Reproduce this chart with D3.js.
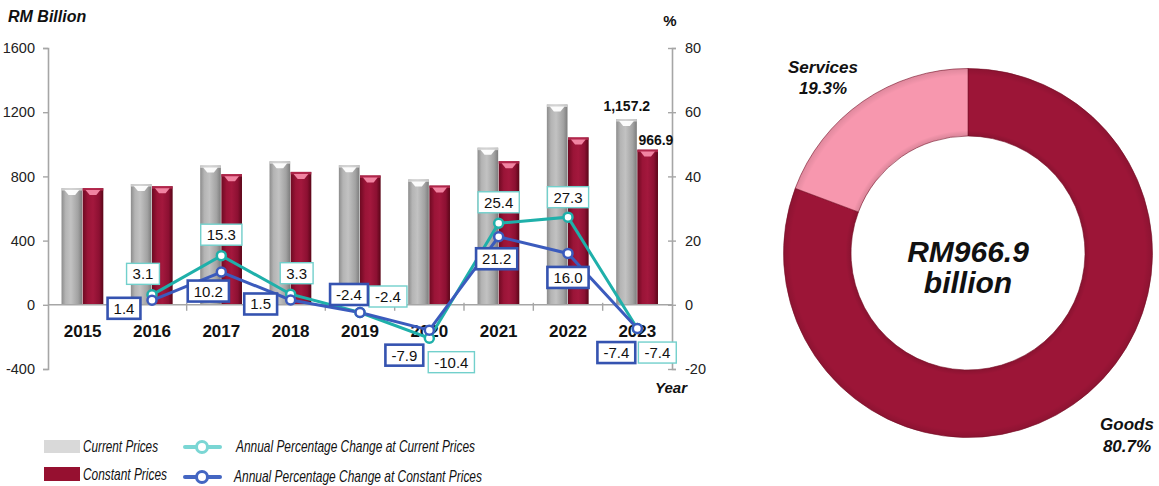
<!DOCTYPE html>
<html>
<head>
<meta charset="utf-8">
<script src="https://cdn.jsdelivr.net/npm/d3@7"></script>
<style>
  html, body { margin: 0; padding: 0; background: #fff; }
  svg { display: block; font-family: "Liberation Sans", Arial, sans-serif; }
</style>
</head>
<body>
<svg id="chart" width="1159" height="486"></svg>
<script>
// ---------- data ----------
const years = ["2015", "2016", "2017", "2018", "2019", "2020", "2021", "2022", "2023"];
const currentPrices = [727, 752, 868, 894, 870, 781, 979, 1248, 1157.2];
const constantPrices = [727, 739, 814, 828, 806, 743, 895, 1043, 966.9];
const pctYears = ["2016", "2017", "2018", "2019", "2020", "2021", "2022", "2023"];
const pctCurrent = [3.1, 15.3, 3.3, -2.4, -10.4, 25.4, 27.3, -7.4];
const pctConstant = [1.4, 10.2, 1.5, -2.4, -7.9, 21.2, 16.0, -7.4];
const leftTicks = [-400, 0, 400, 800, 1200, 1600];
const rightTicks = [-20, 0, 20, 40, 60, 80];
const donutLabels = ["Goods", "Services"];
const donutShares = [80.7, 19.3];
const donutTotal = "RM966.9";

// ---------- layout (label offsets, px) ----------
const curLabelOff = [[-9, -21], [0, -21], [6, -21], [28, -16], [22, 24], [0, -21], [0, -20], [20, 24]];
const conLabelOff = [[-28, 8], [-13, 19], [-30, 4], [-11, -18], [-25, 25], [-2, 22], [0, 24], [-21, 24]];

const hy = s => s.replace(/\u2212/g, "-");
const f1 = v => hy(d3.format(".1f")(v));
const fd = v => hy(d3.format("d")(v));

const svg = d3.select("#chart");
const defs = svg.append("defs");

function hGrad(id, stops) {
  const g = defs.append("linearGradient").attr("id", id).attr("x1", 0).attr("x2", 1).attr("y1", 0).attr("y2", 0);
  stops.forEach(s => g.append("stop").attr("offset", s[0]).attr("stop-color", s[1]));
}
hGrad("gGray", [["0%", "#8c8c8c"], ["20%", "#b4b4b4"], ["45%", "#c2c2c2"], ["80%", "#a2a2a2"], ["100%", "#7c7c7c"]]);
hGrad("gRed", [["0%", "#6e0a22"], ["25%", "#9a1437"], ["50%", "#a3183d"], ["80%", "#8c1032"], ["100%", "#5a0618"]]);

// ---------- scales ----------
const x0 = d3.scaleBand().domain(years).range([48, 672]).paddingInner(0.39).paddingOuter(0.195);
const x1 = d3.scaleBand().domain(["cur", "con"]).range([0, x0.bandwidth()]);
const yL = d3.scaleLinear().domain([-400, 1600]).range([369, 48]);
const yR = d3.scaleLinear().domain([-20, 80]).range([369, 48]);
const cx = y => x0(y) + x0.bandwidth() / 2;

const axisColor = "#a6a6a6";

// ---------- axes ----------
const gLeft = svg.append("g").attr("transform", "translate(48,0)")
  .call(d3.axisLeft(yL).tickValues(leftTicks).tickSize(5).tickPadding(8).tickFormat(fd));
const gRight = svg.append("g").attr("transform", "translate(672,0)")
  .call(d3.axisRight(yR).tickValues(rightTicks).tickSize(4).tickPadding(9).tickFormat(fd));
[gLeft, gRight].forEach(g => {
  g.select(".domain").attr("stroke", axisColor).attr("stroke-width", 1.6);
  g.selectAll(".tick line").attr("stroke", axisColor).attr("stroke-width", 1.4);
  g.selectAll(".tick text").attr("font-size", 14.5).attr("fill", "#222").attr("font-family", "Liberation Sans, Arial, sans-serif");
});
gRight.selectAll(".tick line").attr("x1", -4);

// bars
const barG = svg.append("g");
years.forEach((yr, i) => {
  const series = [["cur", currentPrices[i], "url(#gGray)", "#d8d8d8", "#ffffff"],
                  ["con", constantPrices[i], "url(#gRed)", "#b82a50", "#f58aa8"]];
  series.forEach(([key, v, fill, capCol, hiCol]) => {
    const bx = x0(yr) + x1(key), bw = x1.bandwidth() - 0.5, top = yL(v), h = yL(0) - top;
    barG.append("rect").attr("x", bx).attr("y", top).attr("width", bw).attr("height", h).attr("fill", fill);
    barG.append("rect").attr("x", bx).attr("y", top).attr("width", bw).attr("height", 2.5).attr("fill", capCol).attr("opacity", 0.8);
    barG.append("path")
      .attr("d", `M${bx + 3},${top + 2} L${bx + bw - 3},${top + 2} L${bx + bw - 7},${top + 7} L${bx + 7},${top + 7} Z`)
      .attr("fill", hiCol).attr("opacity", 0.95);
  });
});

// x axis line and ticks
svg.append("line").attr("x1", 48).attr("x2", 672).attr("y1", yL(0)).attr("y2", yL(0))
  .attr("stroke", axisColor).attr("stroke-width", 1.6);
years.slice(1).forEach(yr => {
  const bx = x0(yr) - x0.step() * x0.paddingInner() / 2;
  svg.append("line").attr("x1", bx).attr("x2", bx).attr("y1", yL(0) - 2).attr("y2", yL(0) + 6)
    .attr("stroke", axisColor).attr("stroke-width", 1.4);
});

// year labels
svg.append("g").selectAll("text").data(years).join("text")
  .attr("x", d => cx(d)).attr("y", 337).attr("text-anchor", "middle")
  .attr("font-size", 17).attr("font-weight", "bold").attr("fill", "#111").text(d => d);

// value labels for 2023
const last = years.length - 1;
svg.append("text").attr("x", x0(years[last]) + x1("cur") + x1.bandwidth() / 2).attr("y", yL(currentPrices[last]) - 8)
  .attr("text-anchor", "middle").attr("font-size", 14).attr("font-weight", "bold").attr("fill", "#111")
  .text(d3.format(",.1f")(currentPrices[last]));
svg.append("text").attr("x", x0(years[last]) + x1("con") + x1.bandwidth() / 2 + 8).attr("y", yL(constantPrices[last]) - 5)
  .attr("text-anchor", "middle").attr("font-size", 14).attr("font-weight", "bold").attr("fill", "#111")
  .text(f1(constantPrices[last]));

// axis titles
svg.append("text").attr("x", 8).attr("y", 22).attr("font-size", 16).attr("font-weight", "bold")
  .attr("font-style", "italic").attr("fill", "#111").text("RM Billion");
svg.append("text").attr("x", 670).attr("y", 26).attr("text-anchor", "middle").attr("font-size", 15)
  .attr("font-weight", "bold").attr("fill", "#111").text("%");
svg.append("text").attr("x", 655).attr("y", 393).attr("font-size", 15).attr("font-weight", "bold")
  .attr("font-style", "italic").attr("fill", "#111").text("Year");

// ---------- lines ----------
const tealLine = "#1fb0aa", blueLine = "#3b5bbd";
const line = d3.line().x(d => cx(d[0])).y(d => yR(d[1]));
const curPts = pctYears.map((y, i) => [y, pctCurrent[i]]);
const conPts = pctYears.map((y, i) => [y, pctConstant[i]]);
svg.append("path").datum(curPts).attr("d", line).attr("fill", "none").attr("stroke", tealLine).attr("stroke-width", 3);
svg.append("path").datum(conPts).attr("d", line).attr("fill", "none").attr("stroke", blueLine).attr("stroke-width", 3);
svg.append("g").selectAll("circle").data(curPts).join("circle")
  .attr("cx", d => cx(d[0])).attr("cy", d => yR(d[1])).attr("r", 4.5)
  .attr("fill", "#fff").attr("stroke", tealLine).attr("stroke-width", 2.5);
svg.append("g").selectAll("circle").data(conPts).join("circle")
  .attr("cx", d => cx(d[0])).attr("cy", d => yR(d[1])).attr("r", 4.5)
  .attr("fill", "#fff").attr("stroke", blueLine).attr("stroke-width", 2.5);

// ---------- point labels ----------
function boxLabel(px, py, txt, border, bw) {
  const g = svg.append("g");
  const t = g.append("text").attr("x", px).attr("y", py + 5.5).attr("text-anchor", "middle")
    .attr("font-size", 15).attr("fill", "#111").text(txt);
  const w = t.node().getComputedTextLength() + 12;
  g.insert("rect", "text").attr("x", px - w / 2).attr("y", py - 10.5).attr("width", w).attr("height", 21)
    .attr("fill", "#fff").attr("stroke", border).attr("stroke-width", bw);
}
curPts.forEach((d, i) => boxLabel(cx(d[0]) + curLabelOff[i][0], yR(d[1]) + curLabelOff[i][1], f1(d[1]), "#72d0cc", 1.4));
conPts.forEach((d, i) => boxLabel(cx(d[0]) + conLabelOff[i][0], yR(d[1]) + conLabelOff[i][1], f1(d[1]), "#3553b0", 2.6));

// ---------- legend ----------
const lg = svg.append("g").attr("font-style", "italic").attr("fill", "#111");
lg.append("rect").attr("x", 44).attr("y", 440).attr("width", 36).attr("height", 13).attr("fill", "#d9d9d9");
lg.append("text").attr("x", 83).attr("y", 452).attr("font-size", 16.5).attr("textLength", 75).attr("lengthAdjust", "spacingAndGlyphs").text("Current Prices");
lg.append("rect").attr("x", 44).attr("y", 467).attr("width", 36).attr("height", 14).attr("fill", "#961030");
lg.append("text").attr("x", 83).attr("y", 480).attr("font-size", 16.5).attr("textLength", 84).attr("lengthAdjust", "spacingAndGlyphs").text("Constant Prices");
[[447, "#7ad6d4", "Annual Percentage Change at Current Prices", 239, 236],
 [477, "#4466c2", "Annual Percentage Change at Constant Prices", 248, 234]].forEach(([y, c, t, tl, tx]) => {
  lg.append("line").attr("x1", 185).attr("x2", 220).attr("y1", y).attr("y2", y).attr("stroke", c).attr("stroke-width", 4).attr("stroke-linecap", "round");
  lg.append("circle").attr("cx", 202).attr("cy", y).attr("r", 5.5).attr("fill", "#fff").attr("stroke", c).attr("stroke-width", 3);
  lg.append("text").attr("x", tx).attr("y", y + 5).attr("font-size", 16.5).attr("textLength", tl).attr("lengthAdjust", "spacingAndGlyphs").text(t);
});

// ---------- donut ----------
const dcx = 968, dcy = 253, rOut = 184.5, rIn = 117;
const donutColors = ["#9c1537", "#f797ae"];
const pie = d3.pie().sort(null).value(d => d)(donutShares);
const arc = d3.arc().innerRadius(rIn).outerRadius(rOut);
const dg = svg.append("g").attr("transform", `translate(${dcx},${dcy})`);
const rg = defs.append("radialGradient").attr("id", "dShade").attr("gradientUnits", "userSpaceOnUse")
  .attr("cx", 0).attr("cy", 0).attr("r", rOut);
rg.append("stop").attr("offset", rIn / rOut).attr("stop-color", "#000").attr("stop-opacity", 0.12);
rg.append("stop").attr("offset", rIn / rOut + 0.03).attr("stop-color", "#000").attr("stop-opacity", 0);
rg.append("stop").attr("offset", 0.96).attr("stop-color", "#000").attr("stop-opacity", 0);
rg.append("stop").attr("offset", 1).attr("stop-color", "#000").attr("stop-opacity", 0.1);
dg.selectAll("path.slice").data(pie).join("path").attr("class", "slice")
  .attr("d", arc).attr("fill", (d, i) => donutColors[i]).attr("stroke", "#7a1028").attr("stroke-width", 0.6);
dg.selectAll("path.shade").data(pie).join("path").attr("class", "shade")
  .attr("d", arc).attr("fill", "url(#dShade)");

dg.append("text").attr("x", 0).attr("y", 9).attr("text-anchor", "middle").attr("font-size", 30)
  .attr("font-weight", "bold").attr("font-style", "italic").attr("fill", "#111").text(donutTotal);
dg.append("text").attr("x", 0).attr("y", 40).attr("text-anchor", "middle").attr("font-size", 30)
  .attr("font-weight", "bold").attr("font-style", "italic").attr("fill", "#111").text("billion");

const dl = svg.append("g").attr("font-size", 17).attr("font-weight", "bold").attr("font-style", "italic")
  .attr("fill", "#111").attr("text-anchor", "middle");
dl.append("text").attr("x", 823).attr("y", 73).text(donutLabels[1]);
dl.append("text").attr("x", 823).attr("y", 94).text(f1(donutShares[1]) + "%");
dl.append("text").attr("x", 1127).attr("y", 430).text(donutLabels[0]);
dl.append("text").attr("x", 1127).attr("y", 452).text(f1(donutShares[0]) + "%");
</script>
</body>
</html>
